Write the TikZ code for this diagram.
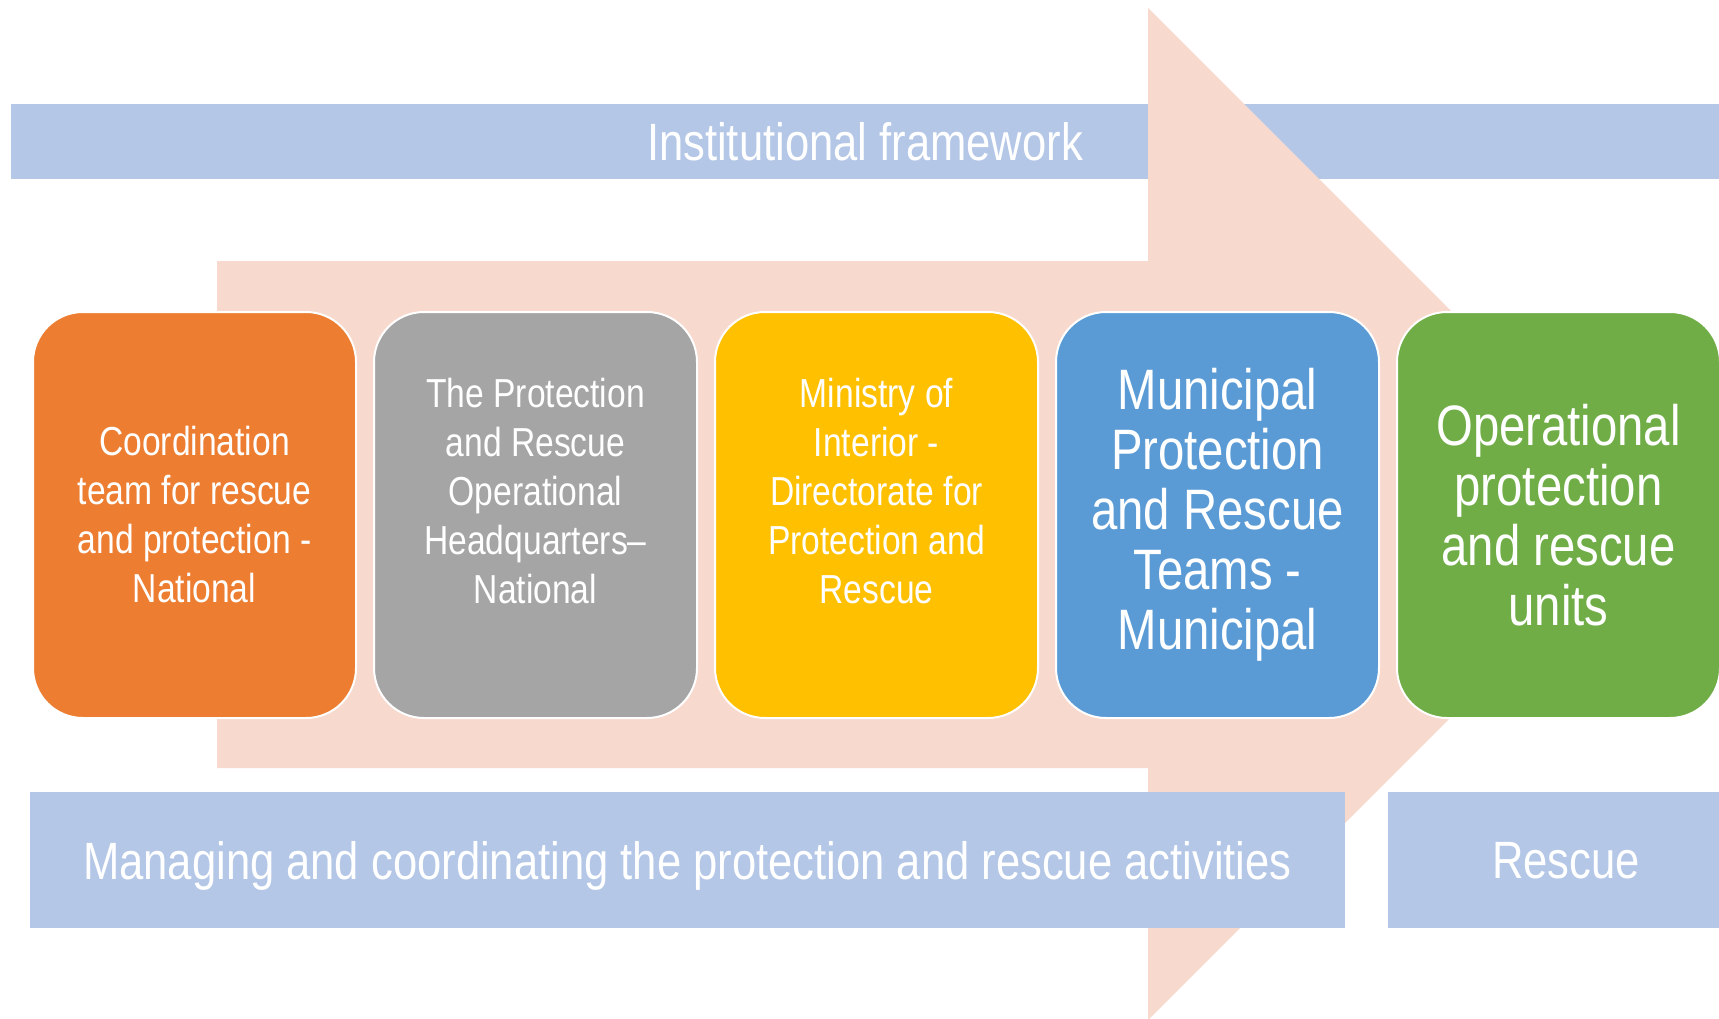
\documentclass[tikz,border=0pt]{standalone}
\usepackage{fontspec}
\setmainfont{Liberation Sans}[FakeStretch=0.83]
\definecolor{bandblue}{RGB}{180,199,231}
\definecolor{arrowpink}{RGB}{247,217,206}
\definecolor{accorange}{RGB}{237,125,49}
\definecolor{accgray}{RGB}{165,165,165}
\definecolor{accgold}{RGB}{255,192,0}
\definecolor{accblue}{RGB}{91,155,213}
\definecolor{accgreen}{RGB}{112,173,71}

\begin{document}
\begin{tikzpicture} [x=1pt, y=-1pt, node distance=341pt,
                    band/.style={rectangle,fill=bandblue,text=white,inner sep=0pt,text depth=0pt,font=\fontsize{52.5}{60}\selectfont},
                    stage/.style={rectangle,rounded corners=50pt,draw=white,line width=2pt,text=white,align=center,
                                  minimum width=323pt,minimum height=406pt,inner sep=0pt,font=\fontsize{40.5}{49}\selectfont},
                    big/.style={font=\fontsize{57}{60}\selectfont}]
    \clip (0,0) rectangle (1719,1018);

    \node[band, minimum width=1708pt, minimum height=75pt] (inst) at (865,141.5) {Institutional framework};

    \fill[arrowpink] (217,261) -- (1148,261) -- (1148,8) -- (1654,514) -- (1148,1020) -- (1148,768) -- (217,768) -- cycle;

    \node[band, minimum width=1315pt, minimum height=136pt] (manage) at (687.5,860) {Managing and coordinating the protection and rescue activities};
    \node[band, minimum width=356pt, minimum height=136pt] (rescue) at (1566,860) {Rescue};

    \node[stage, fill=accorange] (team) at (194.5,515) {Coordination\\team for rescue\\and protection -\\National};
    \node[stage, fill=accgray] (hq) [right of=team] {The Protection\\and Rescue\\Operational\\Headquarters--\\National\\\mbox{}};
    \node[stage, fill=accgold] (moi) [right of=hq] {Ministry of\\Interior -\\Directorate for\\Protection and\\Rescue\\\mbox{}};
    \node[stage, big, fill=accblue] (muni) [right of=moi] {Municipal\\Protection\\and Rescue\\Teams -\\Municipal};
    \node[stage, big, fill=accgreen] (units) [right of=muni] {Operational\\protection\\and rescue\\units};
\end{tikzpicture}
\end{document}
